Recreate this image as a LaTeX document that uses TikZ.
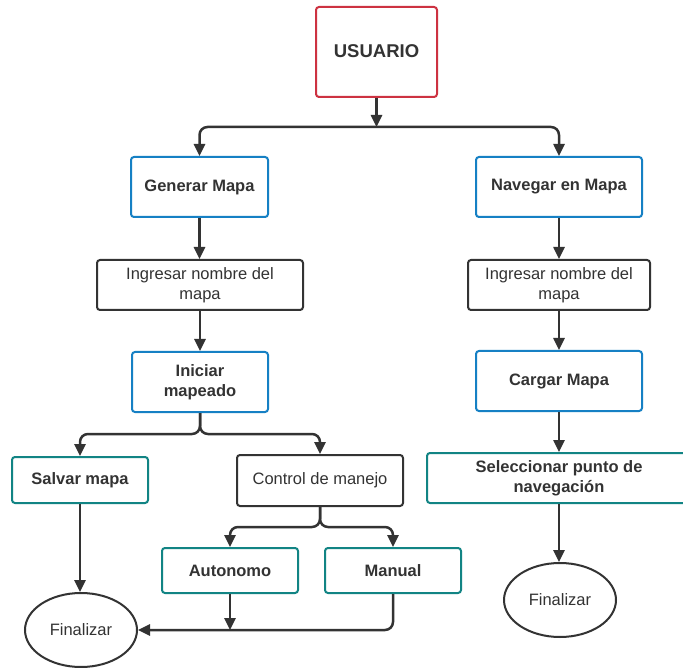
\documentclass[tikz,border=0pt]{standalone}
\usepackage{fontspec}
\setmainfont{Liberation Sans}
\usetikzlibrary{shapes.geometric,arrows.meta}
\definecolor{cred}{RGB}{205,50,65}
\definecolor{cblue}{RGB}{22,128,196}
\definecolor{cteal}{RGB}{18,132,132}
\definecolor{cdark}{RGB}{51,51,51}
\begin{document}
\begin{tikzpicture}[x=1pt,y=-1pt,
  box/.style={draw, line width=2pt, rounded corners=3pt, align=center, inner sep=2pt,
    text=cdark, font=\fontsize{16.5}{20}\selectfont},
  bbox/.style={box, font=\fontsize{16.5}{20}\selectfont\bfseries},
  redbox/.style={bbox, draw=cred},
  bluebox/.style={bbox, draw=cblue},
  tealbox/.style={bbox, draw=cteal},
  darkbox/.style={box, draw=cdark},
  endnode/.style={draw=cdark, line width=2pt, ellipse, minimum width=112pt, minimum height=74pt,
    inner sep=0pt, text=cdark, font=\fontsize{16.5}{20}\selectfont},
  line/.style={draw=cdark, line width=2.5pt},
  arr/.style={line, -{Triangle[length=12pt,width=11pt]}},
  darr/.style={line, {Triangle[length=12pt,width=11pt]}-{Triangle[length=12pt,width=11pt]}}
]
\clip (0,0) rectangle (683,668);
\fill[white] (0,0) rectangle (683,668);

\node[redbox, minimum width=121pt, minimum height=90pt, font=\fontsize{18.5}{22}\selectfont\bfseries] (usu) at (376.5,52) {\raisebox{2pt}{USUARIO}};
\node[bluebox, minimum width=137pt, minimum height=60pt] (gen) at (199.5,187) {Generar Mapa};
\node[bluebox, minimum width=166pt, minimum height=60pt] (nav) at (559,187) {Navegar en Mapa};
\node[darkbox, minimum width=206pt, minimum height=50pt] (ingL) at (200,285) {Ingresar nombre del\\mapa};
\node[darkbox, minimum width=182pt, minimum height=50pt] (ingR) at (559,285) {Ingresar nombre del\\mapa};
\node[bluebox, minimum width=136pt, minimum height=60pt] (ini) at (200,382) {Iniciar\\mapeado};
\node[bluebox, minimum width=166pt, minimum height=60pt] (car) at (559,381) {Cargar Mapa};
\node[tealbox, minimum width=136pt, minimum height=46pt] (salv) at (80,480) {Salvar mapa};
\node[darkbox, minimum width=166pt, minimum height=51pt] (ctl) at (320,480.5) {Control de manejo};
\node[tealbox, minimum width=136pt, minimum height=45pt] (aut) at (230,570.5) {Autonomo};
\node[tealbox, minimum width=136pt, minimum height=45pt] (man) at (393,570.5) {Manual};
\node[tealbox, minimum width=264pt, minimum height=50pt] (sel) at (559,478) {Seleccionar punto de\\navegación};
\node[endnode] (finL) at (81,630) {Finalizar};
\node[endnode] (finR) at (560,600) {Finalizar};

\coordinate (bar) at (376.5,127);
\coordinate (s1) at (200,434);
\coordinate (s2) at (320,527);

\draw[arr] (usu.south) -- (bar);
\draw[darr, rounded corners=8pt] (gen.north) |- (bar) -| (nav.north);
\draw[arr] (gen.south) -- (gen.south |- ingL.north);
\draw[arr] (nav.south) -- (nav.south |- ingR.north);
\draw[arr] (ingL.south) -- (ingL.south |- ini.north);
\draw[arr] (ingR.south) -- (ingR.south |- car.north);
\draw[arr, rounded corners=8pt] (ini.south) |- (salv.north |- s1) -- (salv.north);
\draw[arr, rounded corners=8pt] (ini.south) |- (ctl.north |- s1) -- (ctl.north);
\draw[arr, rounded corners=8pt] (ctl.south) |- (aut.north |- s2) -- (aut.north);
\draw[arr, rounded corners=8pt] (ctl.south) |- (man.north |- s2) -- (man.north);
\draw[arr] (salv.south) -- (salv.south |- finL.north);
\draw[arr] (aut.south) -- (aut.south |- finL.east);
\draw[arr, rounded corners=8pt] (man.south) |- (finL.east);
\draw[arr] (car.south) -- (car.south |- sel.north);
\draw[arr] (sel.south) -- (sel.south |- finR.north);
\end{tikzpicture}
\end{document}
